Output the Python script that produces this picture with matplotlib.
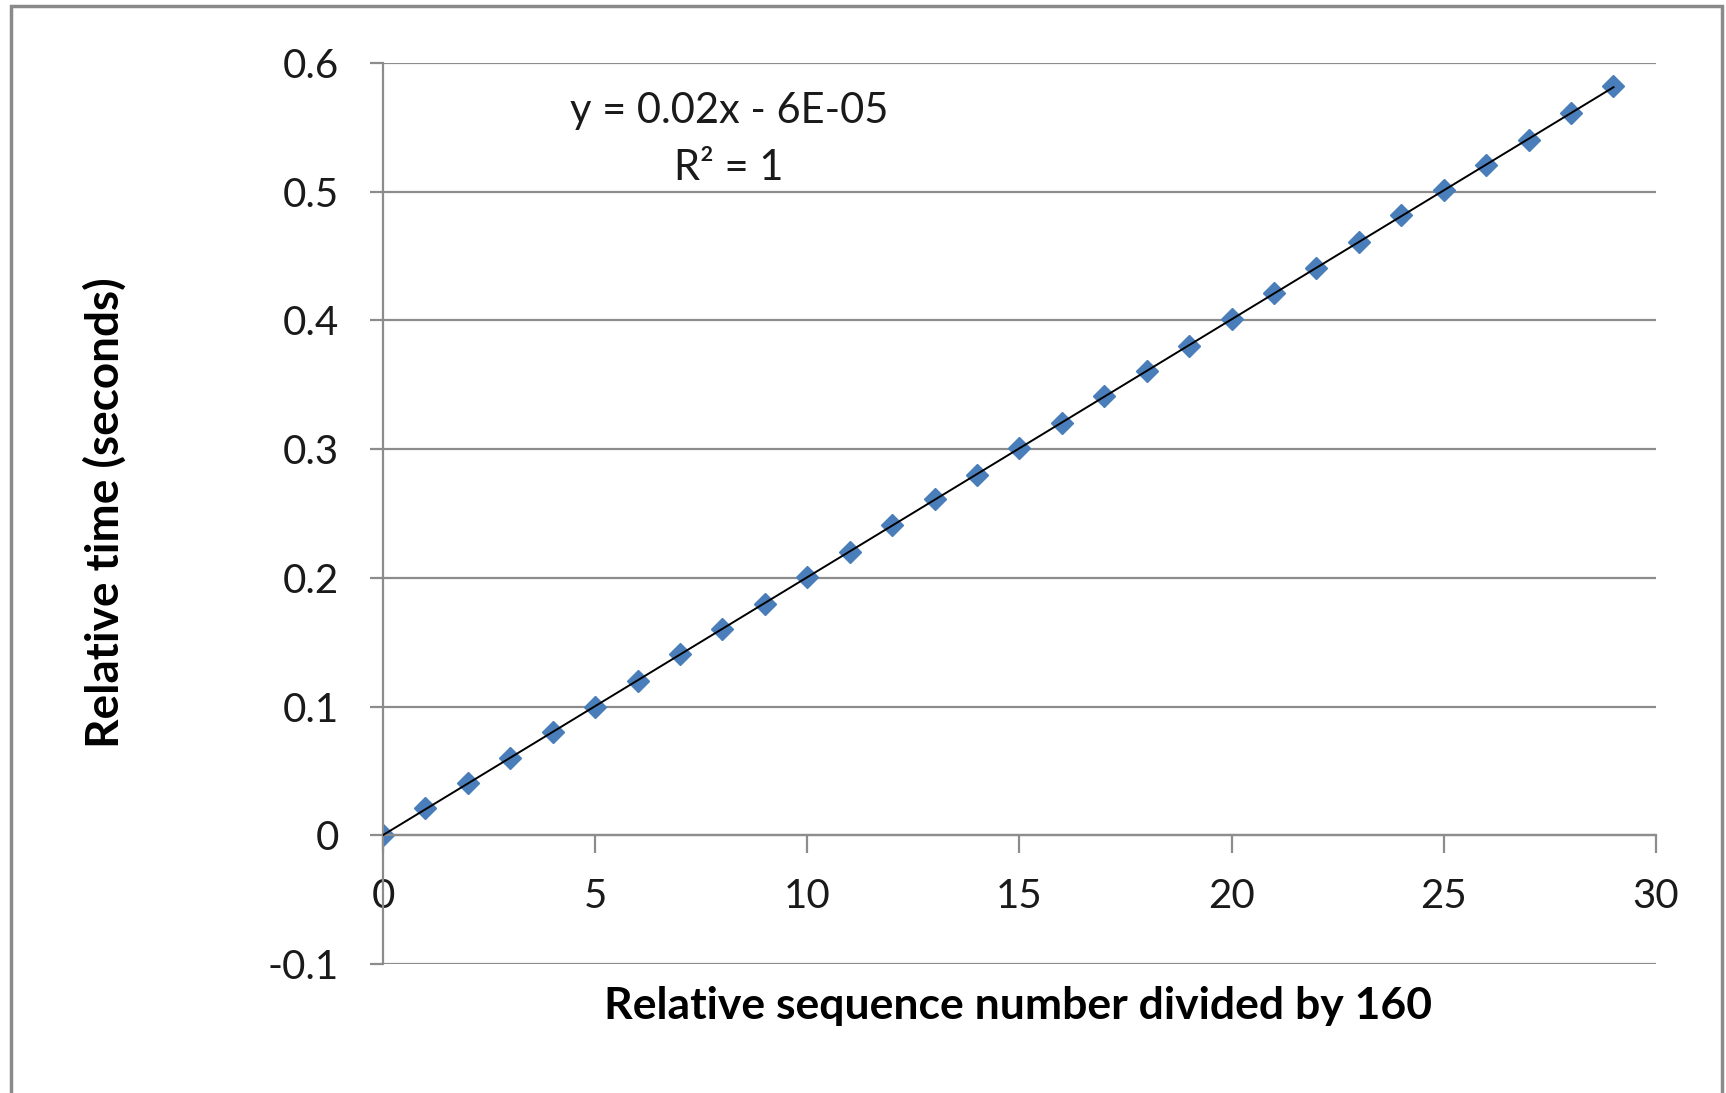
import matplotlib.pyplot as plt
import numpy as np
from matplotlib.patches import Rectangle

# relative sequence number / 160 and relative time (s)
seq = [0, 1, 2, 3, 4, 5, 6, 7, 8, 9, 10, 11, 12, 13, 14, 15, 16, 17, 18, 19,
       20, 21, 22, 23, 24, 25, 26, 27, 28, 29]
rel_time = [0.000, 0.021, 0.041, 0.060, 0.080, 0.100, 0.120, 0.141, 0.160, 0.180,
            0.201, 0.220, 0.241, 0.261, 0.280, 0.301, 0.320, 0.341, 0.361, 0.380,
            0.401, 0.421, 0.441, 0.461, 0.482, 0.501, 0.521, 0.540, 0.561, 0.582]
x_ticks = [0, 5, 10, 15, 20, 25, 30]
y_ticks = [-0.1, 0, 0.1, 0.2, 0.3, 0.4, 0.5, 0.6]
y_tick_labels = ["-0.1", "0", "0.1", "0.2", "0.3", "0.4", "0.5", "0.6"]

plt.rcParams["font.family"] = ["Lato", "DejaVu Sans"]
grey = "#8c8c8c"

fig = plt.figure(figsize=(17.26, 10.93), dpi=100)
fig.patches.append(Rectangle((0.0065, -0.01), 0.991, 1.0045, transform=fig.transFigure,
                             fill=False, edgecolor="#8a8a8a", linewidth=2.5))

ax = fig.add_axes([0.2219, 0.118, 0.7375, 0.8244])
ax.set_xlim(0, 30)
ax.set_ylim(-0.1, 0.6)

x = np.array(seq, dtype=float)
y = np.array(rel_time)
slope, icpt = np.polyfit(x, y, 1)
ax.plot([x[0], x[-1]], [icpt + slope * x[0], icpt + slope * x[-1]],
        color="black", lw=1.4, zorder=3)
ax.plot(x, y, linestyle="none", marker="D", ms=11, color="#4a7ebb",
        markeredgecolor="#4a7ebb", zorder=2)

ax.set_yticks(y_ticks)
ax.set_yticklabels(y_tick_labels)
ax.set_xticks(x_ticks)
ax.grid(axis="y", color=grey, lw=1.6)
ax.set_axisbelow(True)

for s in ["top", "right"]:
    ax.spines[s].set_visible(False)
ax.spines["left"].set_color(grey)
ax.spines["left"].set_linewidth(1.6)
ax.spines["bottom"].set_position(("data", 0))
ax.spines["bottom"].set_color(grey)
ax.spines["bottom"].set_linewidth(1.6)

ax.tick_params(axis="y", direction="out", length=9.5, width=1.6, color=grey,
               labelsize=29, pad=22, labelcolor="#1a1a1a")
ax.tick_params(axis="x", direction="out", length=13, width=1.6, color=grey,
               labelsize=29, pad=18, labelcolor="#1a1a1a")

fig.text(0.0608, 0.531, "Relative time (seconds)", rotation=90, ha="center",
         va="center", fontsize=33, fontweight="bold")
fig.text(0.590, 0.080, "Relative sequence number divided by 160", ha="center",
         va="center", fontsize=32, fontweight="bold")

ax.text(0.2716, 0.947, "y = 0.02x - 6E-05", transform=ax.transAxes, ha="center",
        va="center", fontsize=30, color="#1a1a1a")
ax.text(0.2716, 0.883, "R² = 1", transform=ax.transAxes, ha="center",
        va="center", fontsize=30, color="#1a1a1a")

fig.savefig("out.png", dpi=100)
